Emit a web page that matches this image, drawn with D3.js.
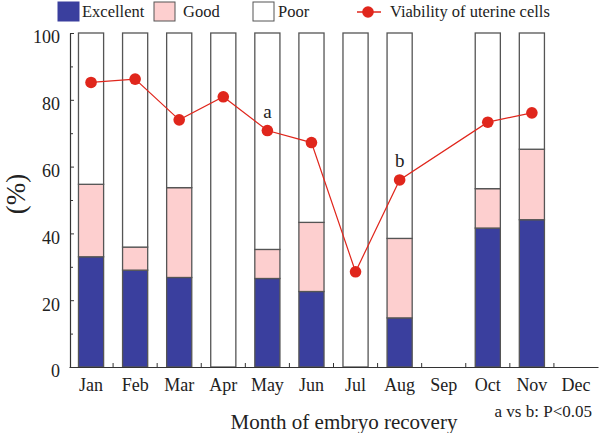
<!DOCTYPE html>
<html><head><meta charset="utf-8">
<script src="https://cdn.jsdelivr.net/npm/d3@7"></script>
<style>
html,body{margin:0;padding:0;background:#fff;}
svg{display:block;}
</style></head>
<body><svg id="chart" width="600" height="433" font-family="Liberation Serif"></svg>
<script>
const months = ["Jan","Feb","Mar","Apr","May","Jun","Jul","Aug","Sep","Oct","Nov","Dec"];
const excellent = [33.0, 29.0, 26.8, 0, 26.5, 22.6, 0, 14.7, null, 41.6, 44.1, null];
const good      = [21.7, 6.9, 26.9, 0, 8.7, 20.7, 0, 23.8, null, 11.8, 21.1, null];
const poor      = [45.3, 64.1, 46.3, 100, 64.8, 56.7, 100, 61.5, null, 46.6, 34.8, null];
const viability = [85.2, 86.2, 74.0, 80.9, 70.8, 67.2, 28.5, 56.0, null, 73.3, 76.1, null];
const annotations = [{month:"May", label:"a"}, {month:"Aug", label:"b"}];
const yTicks = [0,20,40,60,80,100];
const yMinor = [10,30,50,70,90];

const FONT = "Liberation Serif";
const colors = {Excellent:"#3a3f9e", Good:"#fdcfcf", Poor:"#ffffff", line:"#e0261c", stroke:"#555"};
const svg = d3.select("#chart");

const x = d3.scaleBand().domain(months).range([69, 598]).paddingInner(0.43).paddingOuter(0.215);
const y = d3.scaleLinear().domain([0,100]).range([367, 33]);

// stacked bars
const rows = months.map((m,i)=>({month:m, Excellent:excellent[i], Good:good[i], Poor:poor[i]}))
  .filter(d=>d.Excellent!==null);
const keys = ["Excellent","Good","Poor"];
const stack = d3.stack().keys(keys)(rows);
svg.append("g").selectAll("g").data(stack).join("g")
  .attr("fill", d=>colors[d.key])
  .selectAll("rect").data(d=>d.filter(s=>s[1]-s[0]>0)).join("rect")
  .attr("x", d=>x(d.data.month))
  .attr("width", x.bandwidth())
  .attr("y", d=>y(d[1]))
  .attr("height", d=>y(d[0])-y(d[1]))
  .attr("stroke", colors.stroke).attr("stroke-width",1.3);

// y axis
const yAxis = svg.append("g").attr("transform","translate(70,0)")
  .call(d3.axisLeft(y).tickValues(yTicks).tickSize(-4).tickSizeOuter(0).tickPadding(10).tickFormat(d3.format("d")));
yAxis.attr("font-family", FONT);
yAxis.select(".domain").attr("stroke","#333").attr("stroke-width",1.2);
yAxis.selectAll(".tick line").attr("stroke","#333");
yAxis.selectAll(".tick text").attr("font-size",18).attr("fill","#222").attr("font-family", FONT).attr("dy","0.55em");
const yMin = svg.append("g").attr("transform","translate(70,0)")
  .call(d3.axisLeft(y).tickValues(yMinor).tickSize(-3).tickFormat(""));
yMin.select(".domain").remove();
yMin.selectAll(".tick line").attr("stroke","#333");

// x axis
const xAxis = svg.append("g").attr("transform","translate(0,367)")
  .call(d3.axisBottom(x).tickSize(0).tickSizeOuter(0).tickPadding(11));
xAxis.attr("font-family", FONT);
xAxis.select(".domain").attr("stroke","#333").attr("stroke-width",1.2);
xAxis.selectAll(".tick text").attr("font-size",18).attr("fill","#222").attr("font-family", FONT);
const step = x.step();
svg.append("g").selectAll("line").data(months.slice(0,11)).join("line")
  .attr("x1", d=>x(d)+x.bandwidth()+(step-x.bandwidth())/2)
  .attr("x2", d=>x(d)+x.bandwidth()+(step-x.bandwidth())/2)
  .attr("y1",367).attr("y2",363).attr("stroke","#333");

// line
const pts = months.map((m,i)=>({month:m, v:viability[i]})).filter(d=>d.v!==null);
svg.append("path").datum(pts)
  .attr("fill","none").attr("stroke",colors.line).attr("stroke-width",1.2)
  .attr("d", d3.line().x(d=>x(d.month)+x.bandwidth()/2).y(d=>y(d.v)));
svg.append("g").selectAll("circle").data(pts).join("circle")
  .attr("cx", d=>x(d.month)+x.bandwidth()/2).attr("cy", d=>y(d.v)).attr("r",5.8)
  .attr("fill",colors.line);

// annotations
svg.append("g").selectAll("text").data(annotations).join("text")
  .attr("font-family", FONT)
  .attr("x", d=>x(d.month)+x.bandwidth()/2)
  .attr("y", d=>y(viability[months.indexOf(d.month)])-13)
  .attr("text-anchor","middle").attr("font-size",19).attr("fill","#222")
  .text(d=>d.label);

// titles
svg.append("text").attr("font-family", FONT).attr("transform","translate(25,194) rotate(-90)")
  .attr("text-anchor","middle").attr("font-size",27).attr("fill","#222").text("(%)");
svg.append("text").attr("font-family", FONT).attr("x",344).attr("y",429).attr("text-anchor","middle")
  .attr("font-size",21).attr("fill","#222").text("Month of embryo recovery");
svg.append("text").attr("font-family", FONT).attr("x",592).attr("y",417).attr("text-anchor","end")
  .attr("font-size",17).attr("fill","#222").text("a vs b: P<0.05");

// legend
const leg = svg.append("g");
const legItems = [{k:"Excellent", x:58, tx:82},{k:"Good", x:154, tx:183},{k:"Poor", x:253, tx:278}];
legItems.forEach(it=>{
  leg.append("rect").attr("x",it.x).attr("y",2).attr("width",21).attr("height",19)
    .attr("fill",colors[it.k]).attr("stroke", it.k==="Excellent"?colors.Excellent:"#555").attr("stroke-width",1);
  leg.append("text").attr("font-family", FONT).attr("x",it.tx).attr("y",17).attr("font-size",16.5).attr("fill","#222").text(it.k);
});
leg.append("line").attr("x1",357).attr("x2",381).attr("y1",12).attr("y2",12).attr("stroke",colors.line).attr("stroke-width",1.5);
leg.append("circle").attr("cx",368).attr("cy",12).attr("r",5.8).attr("fill",colors.line);
leg.append("text").attr("font-family", FONT).attr("x",390).attr("y",17).attr("font-size",16.5).attr("fill","#222").text("Viability of uterine cells");
</script></body></html>
